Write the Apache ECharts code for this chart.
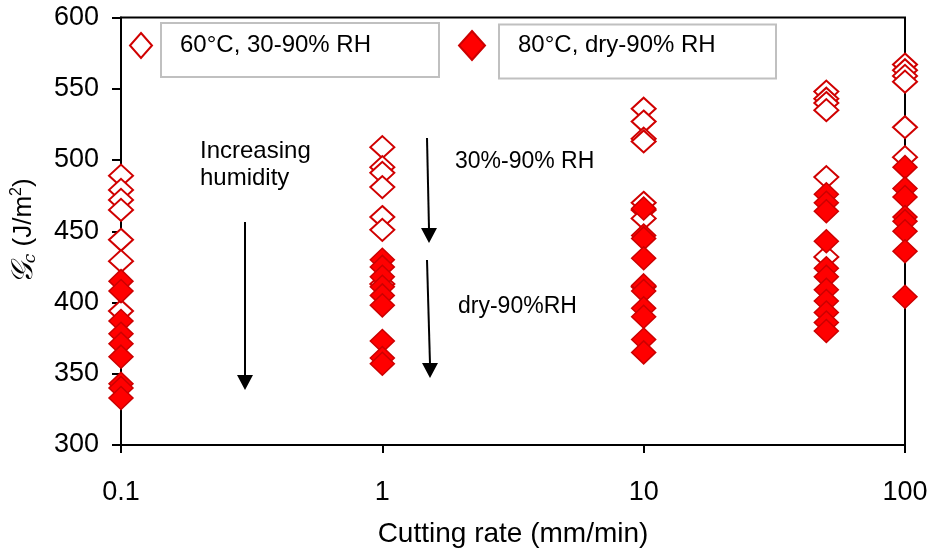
<!DOCTYPE html>
<html>
<head>
<meta charset="utf-8">
<script src="https://cdn.jsdelivr.net/npm/echarts@6/dist/echarts.min.js"></script>
<style>
html,body{margin:0;padding:0;background:#fff;}
#chart{width:935px;height:552px;}
</style>
</head>
<body>
<div id="chart"></div>
<script>
// Cutting rates (mm/min)
const rates = [0.1, 1, 10, 50, 100];
// Gc values (J/m^2) for 60°C, 30-90% RH (open diamonds), one list per rate
const open60 = [
  [489, 479, 472, 465, 444, 429, 394],
  [509, 495, 491, 481, 460, 451, 413],
  [536, 527, 515, 513, 470, 465, 459, 411],
  [548, 543, 540, 535, 488, 432],
  [567, 563, 559, 555, 523, 502]
];
// Gc values (J/m^2) for 80°C, dry-90% RH (filled diamonds), one list per rate
const filled80 = [
  [415, 408, 387, 378, 371, 362, 343, 340, 333],
  [430, 425, 418, 411, 405, 398, 373, 361, 357],
  [466, 447, 445, 431, 412, 408, 396, 390, 374, 365],
  [476, 470, 464, 443, 424, 418, 409, 401, 393, 386, 380],
  [495, 480, 474, 460, 457, 450, 436, 404]
];
const seriesNames = ['60°C, 30-90% RH', '80°C, dry-90% RH'];
const xTicks = [0.1, 1, 10, 100];
const yTicks = [300, 350, 400, 450, 500, 550, 600];

function pairs(groups) {
  const out = [];
  groups.forEach((vals, i) => vals.forEach(v => out.push([rates[i], v])));
  return out;
}

const FONT = 'Liberation Sans, Arial, sans-serif';
const chart = echarts.init(document.getElementById('chart'), null, {renderer: 'canvas'});

function arrow(x1, y1, x2, y2) {
  const hw = 8, hh = 15;
  return [
    {type: 'line', shape: {x1: x1, y1: y1, x2: x2, y2: y2 - hh + 1}, style: {stroke: '#000', lineWidth: 2}},
    {type: 'polygon', shape: {points: [[x2 - hw, y2 - hh], [x2 + hw, y2 - hh], [x2, y2]]}, style: {fill: '#000'}}
  ];
}

const option = {
  animation: false,
  backgroundColor: '#fff',
  grid: {left: 121, right: 30, top: 17.5, bottom: 107, show: true, borderColor: '#000', borderWidth: 2,
         containLabel: false, outerBoundsMode: 'none'},
  xAxis: {
    type: 'log', logBase: 10, min: 0.1, max: 100,
    name: 'Cutting rate (mm/min)', nameLocation: 'middle', nameGap: 75,
    nameTextStyle: {fontFamily: FONT, fontSize: 28, color: '#000'},
    axisLine: {lineStyle: {color: '#000', width: 2}},
    axisTick: {show: true, length: 8, inside: false, lineStyle: {color: '#000', width: 2}},
    minorTick: {show: false},
    splitLine: {show: false},
    axisLabel: {fontFamily: FONT, fontSize: 27, color: '#000', margin: 34,
      formatter: v => { const t = xTicks.find(k => Math.abs(k - v) / k < 1e-6); return t !== undefined ? String(t) : ''; }}
  },
  yAxis: {
    type: 'value', min: 300, max: 600, interval: 50,
    name: '{g|𝒢}{c|c}{t| (J/m}{s|2}{t|)}', nameLocation: 'middle', nameGap: 82, nameRotate: 90,
    nameTextStyle: {fontFamily: FONT, fontSize: 26, color: '#000',
      rich: {
        g: {fontFamily: 'DejaVu Serif', fontStyle: 'italic', fontSize: 30, color: '#000'},
        c: {fontFamily: 'DejaVu Serif', fontStyle: 'italic', fontSize: 17, color: '#000', verticalAlign: 'bottom', padding: [10, 0, 0, 0]},
        t: {fontFamily: FONT, fontSize: 26, color: '#000'},
        s: {fontFamily: FONT, fontSize: 16, color: '#000', verticalAlign: 'top', padding: [0, 0, 12, 0]}
      }},
    axisLine: {show: true, lineStyle: {color: '#000', width: 2}},
    axisTick: {show: true, length: 9, inside: false, lineStyle: {color: '#000', width: 2}},
    splitLine: {show: false},
    axisLabel: {fontFamily: FONT, fontSize: 27, color: '#000', margin: 22,
      formatter: v => yTicks.indexOf(v) >= 0 ? String(v) : ''}
  },
  legend: [
    {data: [seriesNames[0]], left: 129, top: 32, padding: 0, icon: 'diamond', itemWidth: 22, itemHeight: 25,
     formatter: n => '{p| }' + n,
     textStyle: {fontFamily: FONT, fontSize: 24, color: '#000', rich: {p: {width: 23}}}},
    {data: [seriesNames[1]], left: 458, top: 30, padding: 0, icon: 'diamond', itemWidth: 26, itemHeight: 29,
     formatter: n => '{p| }' + n,
     textStyle: {fontFamily: FONT, fontSize: 24, color: '#000', rich: {p: {width: 28}}}}
  ],
  graphic: [
    {type: 'rect', shape: {x: 161, y: 23, width: 278, height: 54}, style: {fill: 'none', stroke: '#c0c0c0', lineWidth: 2}},
    {type: 'rect', shape: {x: 499, y: 24.5, width: 277, height: 54}, style: {fill: 'none', stroke: '#c0c0c0', lineWidth: 2}},
    {type: 'text', left: 200, top: 138, style: {text: 'Increasing\nhumidity', font: '24px ' + FONT, fill: '#000', lineHeight: 27}},
    {type: 'text', left: 455, top: 150, style: {text: '30%-90% RH', font: '23px ' + FONT, fill: '#000'}},
    {type: 'text', left: 458, top: 295, style: {text: 'dry-90%RH', font: '23px ' + FONT, fill: '#000'}},
    ...arrow(245, 222, 245, 390),
    ...arrow(427, 138, 429, 243),
    ...arrow(427, 260, 430, 378)
  ],
  series: [
    {name: seriesNames[0], type: 'scatter', symbol: 'diamond', symbolSize: [24, 22],
     itemStyle: {color: '#ffffff', borderColor: '#d00000', borderWidth: 2, opacity: 1},
     data: pairs(open60), z: 2},
    {name: seriesNames[1], type: 'scatter', symbol: 'diamond', symbolSize: [24, 23],
     itemStyle: {color: '#ff0000', borderColor: '#cc0000', borderWidth: 1.5, opacity: 1},
     data: pairs(filled80), z: 3}
  ]
};
chart.setOption(option);
</script>
</body>
</html>
